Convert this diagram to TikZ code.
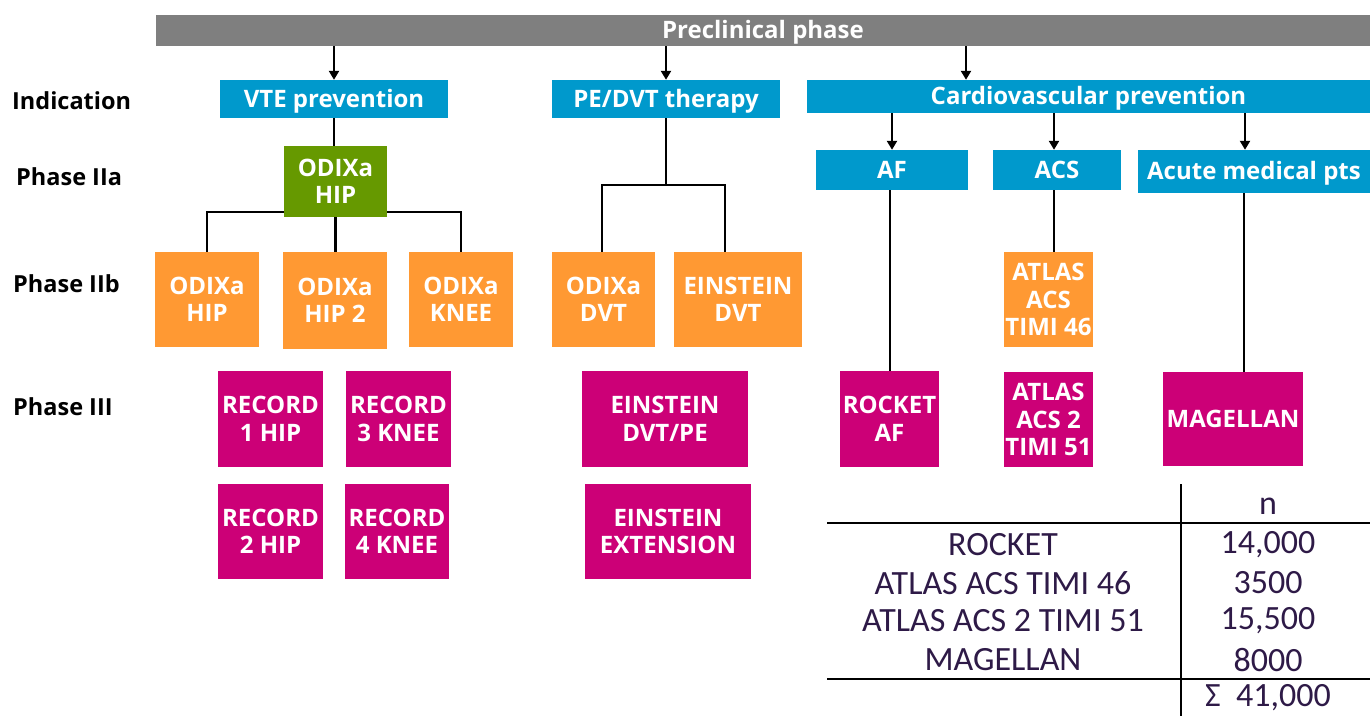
\documentclass[tikz,border=0pt]{standalone}
\usepackage{fontspec}
\setmainfont{Open Sans}
\newfontfamily\tabfont{Carlito}
\usetikzlibrary{arrows.meta}
\definecolor{barGray}{RGB}{127,127,127}
\definecolor{indBlue}{RGB}{0,153,204}
\definecolor{twoaGreen}{RGB}{102,153,0}
\definecolor{twobOrange}{RGB}{255,153,51}
\definecolor{threeMagenta}{RGB}{204,0,119}
\definecolor{tabText}{RGB}{46,26,71}
\begin{document}
\begin{tikzpicture}[x=1pt, y=-1pt,
  box/.style = {shape=rectangle, text=white, align=center, inner sep=0pt,
    font=\fontsize{24}{27.5}\selectfont\bfseries},
  onelinebox/.style = {box, text height=16pt, text depth=0pt},
  indbox/.style = {onelinebox, fill=indBlue},
  twoabox/.style = {box, fill=twoaGreen},
  twobbox/.style = {box, fill=twobOrange},
  threebox/.style = {box, fill=threeMagenta},
  rowlabel/.style = {anchor=west, inner sep=0pt, font=\fontsize{23.5}{27}\selectfont\bfseries},
  conn/.style = {draw=black, line width=2.2pt},
  arr/.style = {conn, -{Triangle[width=10pt,length=9pt]}},
  tabcell/.style = {inner sep=0pt, text=tabText, font=\tabfont\fontsize{34}{38}\selectfont}]
  \useasboundingbox (0,0) rectangle (1370,716);

  % top bar
  \node[onelinebox, fill=barGray, minimum width=1214pt, minimum height=31pt] (pre) at (763,30.5) {Preclinical phase};

  % row labels
  \node[rowlabel] (lind) at (12,101) {Indication};
  \node[rowlabel] (l2a) at (16,177) {Phase IIa};
  \node[rowlabel] (l2b) at (13,284) {Phase IIb};
  \node[rowlabel] (l3) at (13,407) {Phase III};

  % indications
  \node[indbox, minimum width=228pt, minimum height=38pt] (vte) at (334,99) {VTE prevention};
  \node[indbox, minimum width=228pt, minimum height=38pt] (pedvt) at (666,99) {PE/DVT therapy};
  \node[indbox, minimum width=563pt, minimum height=33pt] (cardio) at (1088.5,96.5) {Cardiovascular prevention};
  \node[indbox, minimum width=152pt, minimum height=40pt] (af) at (892,170) {AF};
  \node[indbox, minimum width=128pt, minimum height=40pt] (acs) at (1057,170) {ACS};
  \node[indbox, minimum width=232pt, minimum height=43pt] (acute) at (1254,171.5) {Acute medical pts};

  % phase IIa
  \node[twoabox, minimum width=103pt, minimum height=71pt] (odxhip) at (335.5,181.5) {ODIXa\\HIP};

  % phase IIb
  \node[twobbox, minimum width=104pt, minimum height=95pt] (odxhipb) at (207,299.5) {ODIXa\\HIP};
  \node[twobbox, minimum width=104pt, minimum height=97pt] (odxhiptwo) at (335,300.5) {ODIXa\\HIP 2};
  \node[twobbox, minimum width=104pt, minimum height=95pt] (odxknee) at (461,299.5) {ODIXa\\KNEE};
  \node[twobbox, minimum width=103pt, minimum height=95pt] (odxdvt) at (603.5,299.5) {ODIXa\\DVT};
  \node[twobbox, minimum width=128pt, minimum height=95pt] (eindvt) at (738,299.5) {EINSTEIN\\DVT};
  \node[twobbox, minimum width=89pt, minimum height=95pt] (atlas) at (1048.5,299.5) {ATLAS\\ACS\\TIMI 46};

  % phase III
  \node[threebox, minimum width=105pt, minimum height=96pt] (rec1) at (270.5,419) {RECORD\\1 HIP};
  \node[threebox, minimum width=105pt, minimum height=96pt] (rec3) at (398.5,419) {RECORD\\3 KNEE};
  \node[threebox, minimum width=105pt, minimum height=95pt] (rec2) at (270.5,531.5) {RECORD\\2 HIP};
  \node[threebox, minimum width=104pt, minimum height=95pt] (rec4) at (397,531.5) {RECORD\\4 KNEE};
  \node[threebox, minimum width=166pt, minimum height=96pt] (einpe) at (665,419) {EINSTEIN\\DVT/PE};
  \node[threebox, minimum width=166pt, minimum height=95pt] (einext) at (668,531.5) {EINSTEIN\\EXTENSION};
  \node[threebox, minimum width=99pt, minimum height=96pt] (rocket) at (889.5,419) {ROCKET\\AF};
  \node[threebox, minimum width=89pt, minimum height=95pt] (atlastwo) at (1048.5,419.5) {ATLAS\\ACS 2\\TIMI 51};
  \node[threebox, minimum width=140pt, minimum height=94pt] (magellan) at (1233,419) {MAGELLAN};

  % arrows from the top bar
  \coordinate (xcardio) at (966,0);
  \draw[arr] (vte.north |- pre.south) -- (vte.north);
  \draw[arr] (pedvt.north |- pre.south) -- (pedvt.north);
  \draw[arr] (pre.south -| xcardio) -- (cardio.north -| xcardio);
  \draw[arr] (af.north |- cardio.south) -- (af.north);
  \draw[arr] ([xshift=-3pt]acs.north |- cardio.south) -- ([xshift=-3pt]acs.north);
  \draw[arr] ([xshift=-9pt]acute.north |- cardio.south) -- ([xshift=-9pt]acute.north);

  % tree lines
  \draw[conn] (vte.south) -- (vte.south |- odxhip.north);
  \draw[conn] (odxhip.south) -- (odxhip.south |- odxhiptwo.north);
  \draw[conn, line width=1.8pt] (odxhipb.north) |- ([yshift=5pt]odxhip.south west);
  \draw[conn, line width=1.8pt] (odxknee.north) |- ([yshift=5pt]odxhip.south east);
  \draw[conn] (pedvt.south) -- ++(0,67) coordinate (pej);
  \draw[conn, line width=1.8pt] ([xshift=-1.5pt]odxdvt.north) |- (pej) -| ([xshift=-13pt]eindvt.north);
  \draw[conn] ([xshift=-2pt]af.south) -- ([xshift=-2pt]af.south |- rocket.north);
  \draw[conn] ([xshift=-3pt]acs.south) -- ([xshift=-3pt]acs.south |- atlas.north);
  \draw[conn] ([xshift=-10pt]acute.south) -- ([xshift=-10pt]acute.south |- magellan.north);

  % enrolment table
  \draw[line width=2pt] (1181,484) -- (1181,716);
  \draw[line width=2pt] (827,523) -- (1370,523);
  \draw[line width=2pt] (827,679) -- (1370,679);
  \node[tabcell] (hn) at (1268,506) {n};
  \node[tabcell] (t1) at (1003,545) {ROCKET};
  \node[tabcell] (n1) at (1268,545) {14,000};
  \node[tabcell] (t2) at (1003,583) {ATLAS ACS TIMI 46};
  \node[tabcell] (n2) at (1268,583) {3500};
  \node[tabcell] (t3) at (1003,621) {ATLAS ACS 2 TIMI 51};
  \node[tabcell] (n3) at (1268,621) {15,500};
  \node[tabcell] (t4) at (1003,660) {MAGELLAN};
  \node[tabcell] (n4) at (1268,660) {8000};
  \node[tabcell] (nsum) at (1268,698) {Σ\ \ 41,000};
\end{tikzpicture}
\end{document}
